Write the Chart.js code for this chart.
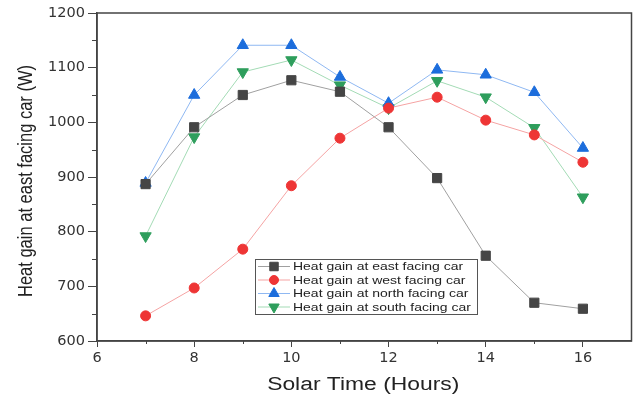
<!DOCTYPE html>
<html>
<head>
<meta charset="utf-8">
<script src="https://cdn.jsdelivr.net/npm/chart.js@4/dist/chart.umd.min.js"></script>
<style>
  html, body { margin: 0; padding: 0; background: #fff; }
  #wrap { width: 639px; height: 398px; }
</style>
</head>
<body>
<div id="wrap"><canvas id="chart" width="639" height="398"></canvas></div>
<script>
const hours = [7, 8, 9, 10, 11, 12, 13, 14, 15, 16];
const eastGain = [887, 991, 1050, 1077, 1056, 991, 898, 756, 670, 659];
const westGain = [646, 697, 768, 884, 971, 1026, 1046, 1004, 977, 927];
const northGain = [889, 1050, 1141, 1141, 1083, 1035, 1096, 1087, 1055, 953];
const southGain = [792, 973, 1092, 1114, 1068, 1026, 1076, 1046, 990, 863];
const xTickLabels = [6, 8, 10, 12, 14, 16];
const yTickLabels = [600, 700, 800, 900, 1000, 1100, 1200];
const xTitle = 'Solar Time (Hours)';
const yTitle = 'Heat gain at east facing car (W)';

const FONT = "'Liberation Sans', Arial, sans-serif";
const TICK_FONT = "'DejaVu Sans', sans-serif";
// the source image is stretched sideways, text looks wider than normal
const STRETCH = 1.27;

const pairs = (ys) => hours.map((h, i) => ({ x: h, y: ys[i] }));

function series(label, ys, line, fill, style, radius, rotation) {
  return {
    label,
    data: pairs(ys),
    borderColor: line,
    borderWidth: 1,
    pointStyle: style,
    pointRadius: radius,
    pointRotation: rotation,
    pointBackgroundColor: fill,
    pointBorderColor: fill,
    pointBorderWidth: 1,
    markerColor: fill,
    tension: 0,
  };
}

const isMajorX = (v) => xTickLabels.includes(v);
const isMajorY = (v) => yTickLabels.includes(v);

// frame, minor ticks, stretched titles and the boxed legend
const framePlugin = {
  id: 'frame',
  afterDraw(chart) {
    const { ctx, chartArea: a, scales } = chart;
    ctx.save();
    ctx.strokeStyle = '#444';
    ctx.lineWidth = 1.5;
    ctx.strokeRect(a.left, a.top, a.right - a.left, a.bottom - a.top);

    // minor ticks
    ctx.lineWidth = 1;
    ctx.beginPath();
    scales.x.ticks.forEach((t) => {
      if (isMajorX(t.value) || t.value === 17) return;
      const px = Math.round(scales.x.getPixelForValue(t.value)) + 0.5;
      ctx.moveTo(px, a.bottom);
      ctx.lineTo(px, a.bottom + 3);
    });
    scales.y.ticks.forEach((t) => {
      if (isMajorY(t.value)) return;
      const py = Math.round(scales.y.getPixelForValue(t.value)) + 0.5;
      ctx.moveTo(a.left, py);
      ctx.lineTo(a.left - 5, py);
    });
    ctx.stroke();

    // axis titles
    ctx.fillStyle = '#222';
    ctx.textAlign = 'center';
    ctx.textBaseline = 'alphabetic';
    ctx.save();
    ctx.translate((a.left + a.right) / 2 - 1, 390);
    ctx.scale(STRETCH, 1);
    ctx.font = '18px ' + FONT;
    ctx.fillText(xTitle, 0, 0);
    ctx.restore();

    ctx.save();
    ctx.translate(32, (a.top + a.bottom) / 2 + 4);
    ctx.rotate(-Math.PI / 2);
    ctx.scale(1, STRETCH);
    ctx.font = '16.5px ' + FONT;
    ctx.fillText(yTitle, 0, 0);
    ctx.restore();

    // legend
    const bx = a.left + 158, by = a.top + 246, bw = 222, bh = 55;
    ctx.strokeStyle = '#555';
    ctx.fillStyle = '#fff';
    ctx.fillRect(bx, by, bw, bh);
    ctx.strokeRect(bx + 0.5, by + 0.5, bw, bh);
    ctx.textAlign = 'left';
    ctx.textBaseline = 'middle';
    chart.data.datasets.forEach((ds, i) => {
      const y = by + 7.5 + i * 13.5;
      ctx.strokeStyle = ds.borderColor;
      ctx.beginPath();
      ctx.moveTo(bx + 3, y);
      ctx.lineTo(bx + 35, y);
      ctx.stroke();
      ctx.fillStyle = ds.markerColor;
      ctx.strokeStyle = ds.markerColor;
      Chart.helpers.drawPoint(ctx, {
        pointStyle: ds.pointStyle, radius: ds.pointRadius - 0.5,
        rotation: ds.pointRotation, borderWidth: 1,
      }, bx + 19, y);
      ctx.save();
      ctx.translate(bx + 38, y + 0.5);
      ctx.scale(STRETCH, 1);
      ctx.fillStyle = '#222';
      ctx.font = '11px ' + FONT;
      ctx.fillText(ds.label, 0, 0);
      ctx.restore();
    });
    ctx.restore();
  },
};

new Chart(document.getElementById('chart'), {
  type: 'line',
  data: {
    datasets: [
      series('Heat gain at east facing car', eastGain, '#a0a0a0', '#454545', 'rect', 6.5, 0),
      series('Heat gain at west facing car', westGain, '#f5a3a3', '#ee3535', 'circle', 5, 0),
      series('Heat gain at north facing car', northGain, '#8fb8f2', '#1c6ddc', 'triangle', 6.5, 0),
      series('Heat gain at south facing car', southGain, '#a3dbb5', '#2e9e5c', 'triangle', 6.5, 180),
    ],
  },
  options: {
    responsive: false,
    animation: false,
    layout: { padding: { top: 13, right: 5, left: 0, bottom: 0 } },
    plugins: { legend: { display: false }, tooltip: { enabled: false } },
    scales: {
      x: {
        type: 'linear',
        min: 6,
        max: 17,
        afterFit: (s) => { s.height = 57; },
        ticks: {
          stepSize: 1,
          color: '#333',
          font: { family: TICK_FONT, size: 14.5 },
          padding: 3,
          maxRotation: 0,
          autoSkip: false,
          callback: (v) => (isMajorX(v) ? String(v) : ''),
        },
        grid: {
          drawOnChartArea: false,
          tickLength: 6,
          tickWidth: 1,
          color: (c) => (c.tick && isMajorX(c.tick.value) ? '#444' : 'rgba(0,0,0,0)'),
        },
        border: { color: '#444', width: 1.5 },
      },
      y: {
        min: 600,
        max: 1200,
        afterFit: (s) => { s.width = 97; },
        ticks: {
          stepSize: 50,
          color: '#333',
          font: { family: TICK_FONT, size: 14.5 },
          padding: 3,
          autoSkip: false,
          callback: (v) => (isMajorY(v) ? String(v) : ''),
        },
        grid: {
          drawOnChartArea: false,
          tickLength: 9,
          tickWidth: 1,
          color: (c) => (c.tick && isMajorY(c.tick.value) ? '#444' : 'rgba(0,0,0,0)'),
        },
        border: { color: '#444', width: 1.5 },
      },
    },
  },
  plugins: [framePlugin],
});
</script>
</body>
</html>
